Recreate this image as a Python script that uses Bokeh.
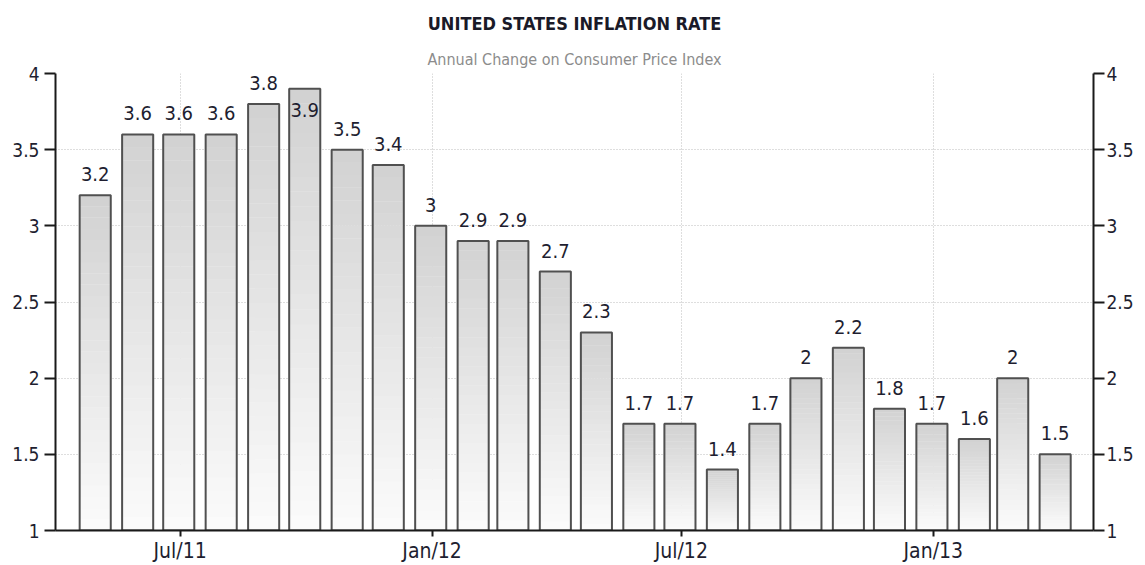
import numpy as np
import pandas as pd
from bokeh.plotting import figure
from bokeh.models import (ColumnDataSource, FixedTicker, LinearAxis, Title,
                          Range1d, DatetimeTickFormatter)
from bokeh.core.properties import value
from bokeh.embed import file_html
from bokeh.resources import INLINE

# ---------------- data ----------------
months = ["2011-04", "2011-05", "2011-06", "2011-07", "2011-08", "2011-09",
          "2011-10", "2011-11", "2011-12", "2012-01", "2012-02", "2012-03",
          "2012-04", "2012-05", "2012-06", "2012-07", "2012-08", "2012-09",
          "2012-10", "2012-11", "2012-12", "2013-01", "2013-02", "2013-03"]
inflation = [3.2, 3.6, 3.6, 3.6, 3.8, 3.9, 3.5, 3.4, 3.0, 2.9, 2.9, 2.7,
             2.3, 1.7, 1.7, 1.4, 1.7, 2.0, 2.2, 1.8, 1.7, 1.6, 2.0, 1.5]
x_tick_dates = ["2011-07-01", "2012-01-01", "2012-07-01", "2013-01-01"]
x_tick_labels = ["Jul/11", "Jan/12", "Jul/12", "Jan/13"]
y_ticks = [1, 1.5, 2, 2.5, 3, 3.5, 4]
y_tick_labels = ["1", "1.5", "2", "2.5", "3", "3.5", "4"]
title_text = "UNITED STATES INFLATION RATE"
subtitle_text = "Annual Change on Consumer Price Index"

# ---------------- helpers ----------------
EPOCH = pd.Timestamp("1970-01-01")
def to_ms(ts):
    return (pd.to_datetime(ts) - EPOCH) // pd.Timedelta(milliseconds=1)

bar_dates = pd.to_datetime(months) + pd.offsets.MonthEnd(0)
bar_x = np.array([to_ms(d) for d in bar_dates], dtype=float)
vals = np.array(inflation, dtype=float)
DAY = 86400000.0
bar_w = 22.7 * DAY
y_min, y_max = 1.0, 4.0

TXT = "#1e1e30"
FONT = "DejaVu Sans Condensed"

p = figure(width=1145, height=565, output_backend="svg", toolbar_location=None,
           x_axis_type="datetime", title=None,
           x_range=Range1d(to_ms("2011-04-01"), to_ms("2013-04-28")),
           y_range=Range1d(y_min, y_max),
           min_border_left=55, min_border_right=52, min_border_top=73,
           min_border_bottom=35, background_fill_color="white",
           border_fill_color="white")
p.outline_line_color = None

# gradient bars: slices per bar
N = 30
lefts, rights, bottoms, tops, colors = [], [], [], [], []
c_bot = np.array([252, 252, 252]); c_top = np.array([210, 210, 210])
for xv, v in zip(bar_x, vals):
    edges = np.linspace(y_min, v, N + 1)
    for k in range(N):
        t = (k + 0.5) / N
        c = (c_bot + (c_top - c_bot) * t).astype(int)
        lefts.append(xv - bar_w / 2); rights.append(xv + bar_w / 2)
        bottoms.append(edges[k]); tops.append(edges[k + 1] + 0.002)
        colors.append("#%02x%02x%02x" % tuple(c))
p.quad(left=lefts, right=rights, bottom=bottoms, top=tops,
       fill_color=colors, line_color=None)

src = ColumnDataSource(dict(x=bar_x, top=vals))
p.vbar(x="x", width=bar_w, top="top", bottom=y_min, source=src,
       fill_color=None, line_color="#505050", line_width=2)

# value labels
inside = vals > y_max - 0.18
src_out = ColumnDataSource(dict(x=bar_x[~inside], y=vals[~inside],
                                label=["%g" % v for v in vals[~inside]]))
src_in = ColumnDataSource(dict(x=bar_x[inside], y=vals[inside],
                               label=["%g" % v for v in vals[inside]]))
for s, off in ((src_out, -21), (src_in, 21)):
    p.text(x="x", y="y", text="label", source=s, text_align="center",
           text_baseline="alphabetic", y_offset=off,
           text_font=value(FONT), text_font_size="20px", text_color=TXT)

# axes
xt = [float(to_ms(d)) for d in x_tick_dates]
p.xaxis.ticker = FixedTicker(ticks=xt)
p.xaxis.formatter = DatetimeTickFormatter(days="%b/%y", months="%b/%y",
                                          years="%b/%y")
p.xaxis.major_label_overrides = {t: l for t, l in zip(xt, x_tick_labels)}
p.xaxis.major_tick_out = 6
p.xaxis.major_tick_in = 0
p.xaxis.minor_tick_line_color = None
p.xaxis.major_label_standoff = 2
p.xaxis.major_label_text_font = FONT
p.xaxis.major_label_text_font_size = "21px"
p.xaxis.major_label_text_color = TXT
p.xaxis.axis_line_color = "#1a1a1a"
p.xaxis.axis_line_width = 2
p.xaxis.major_tick_line_width = 2
p.xaxis.major_tick_line_color = "#1a1a1a"

ovr = {t: l for t, l in zip(y_ticks, y_tick_labels)}
p.yaxis.ticker = FixedTicker(ticks=y_ticks)
p.yaxis.major_label_overrides = ovr
right = LinearAxis(ticker=FixedTicker(ticks=y_ticks), major_label_overrides=ovr)
p.add_layout(right, "right")
for ax, so in ((p.yaxis[0], 5), (right, 2)):
    ax.major_tick_out = 11
    ax.major_tick_in = 0
    ax.minor_tick_line_color = None
    ax.major_label_standoff = so
    ax.major_label_text_font = FONT
    ax.major_label_text_font_size = "19px"
    ax.major_label_text_color = TXT
    ax.axis_line_color = "#1a1a1a"
    ax.axis_line_width = 2
    ax.major_tick_line_width = 2
    ax.major_tick_line_color = "#1a1a1a"

p.xgrid.ticker = FixedTicker(ticks=xt)
p.ygrid.ticker = FixedTicker(ticks=y_ticks)
for g in (p.xgrid, p.ygrid):
    g.grid_line_color = "#bdbdbd"
    g.grid_line_dash = "1 2"
    g.grid_line_width = 1

p.add_layout(Title(text=subtitle_text, align="center", text_font=FONT,
                   text_font_size="16px", text_font_style="normal",
                   text_color="#8c8c8c", standoff=10), "above")
p.add_layout(Title(text=title_text, align="center", text_font=FONT,
                   text_font_size="18px", text_font_style="bold",
                   text_color="#1a1a28", standoff=17), "above")

open("out.html", "w").write(file_html(p, INLINE))
